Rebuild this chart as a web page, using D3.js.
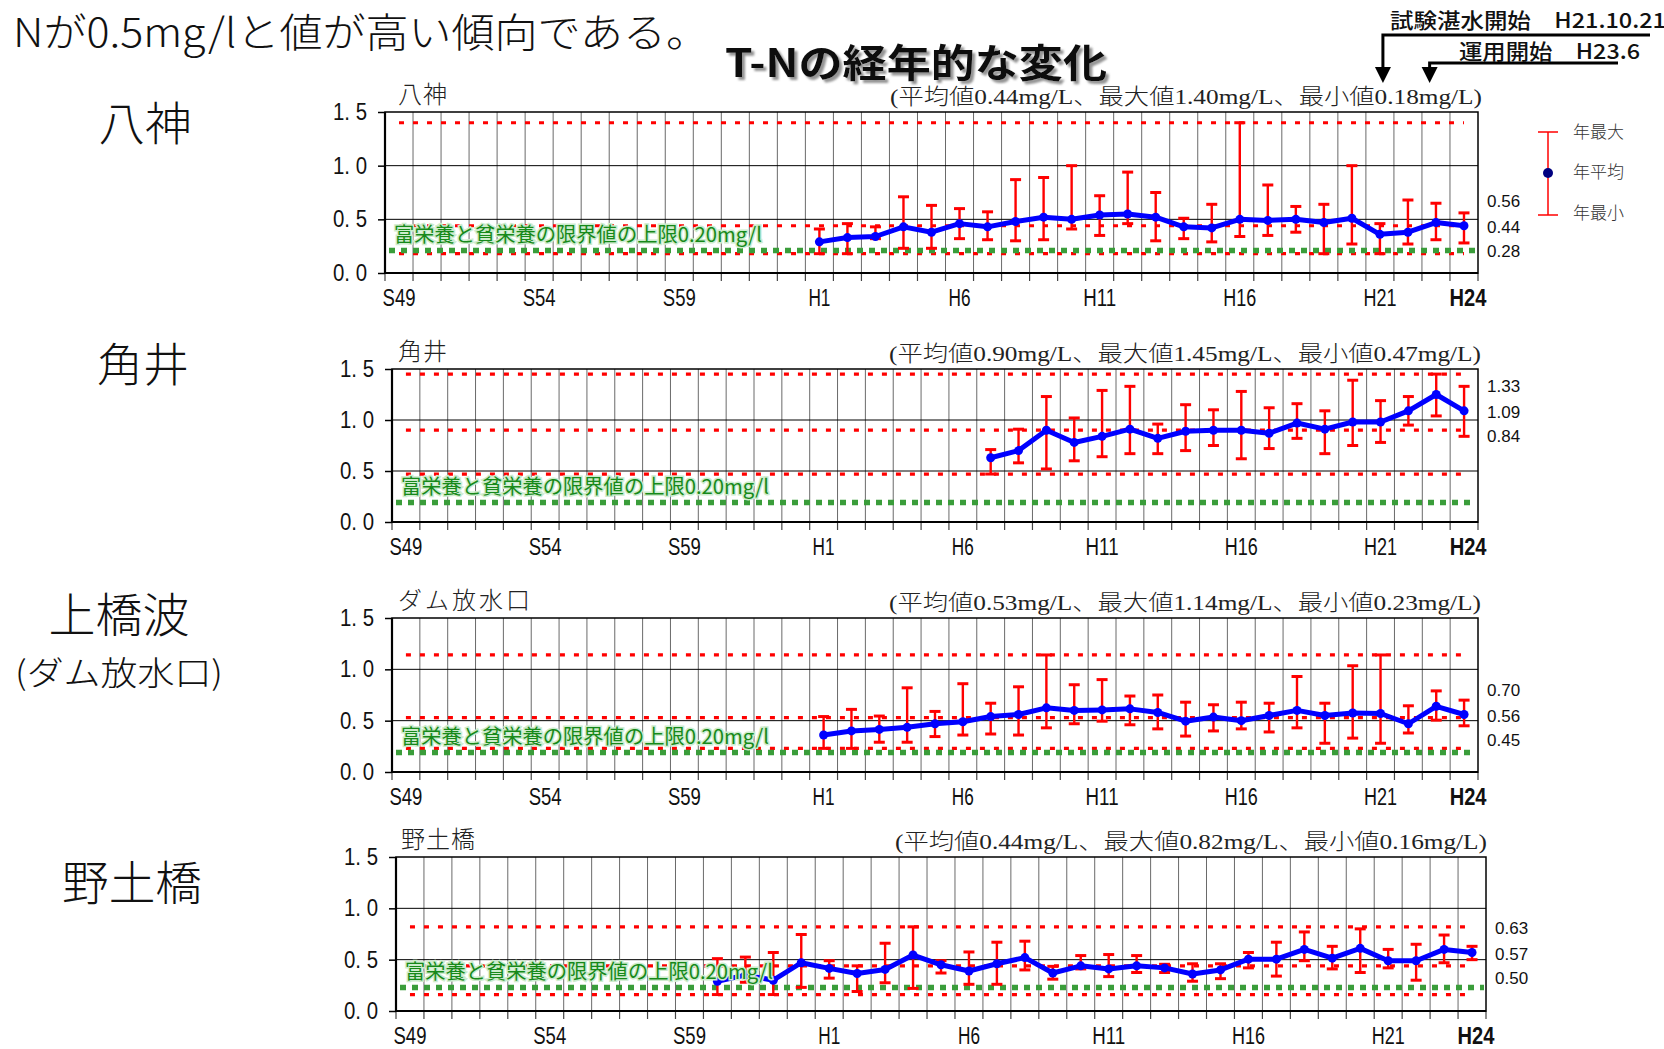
<!DOCTYPE html>
<html>
<head>
<meta charset="utf-8">
<script src="https://cdn.jsdelivr.net/npm/d3@7"></script>
<style>
body { margin: 0; background: #fff; }
svg { display: block; }
</style>
</head>
<body>
<div id="chart"></div>
<script>
const width = 1664;
const height = 1049;

// Categories (fiscal years, Showa 49 .. Heisei 24)
const years = ["S49", "S50", "S51", "S52", "S53", "S54", "S55", "S56", "S57", "S58", "S59", "S60", "S61", "S62", "S63",
    "H1", "H2", "H3", "H4", "H5", "H6", "H7", "H8", "H9", "H10", "H11", "H12", "H13", "H14", "H15", "H16",
    "H17", "H18", "H19", "H20", "H21", "H22", "H23", "H24"];
const tickYears = ["S49", "S54", "S59", "H1", "H6", "H11", "H16", "H21", "H24"];

const stationNames = ["八神", "角井", "ダム放水口", "野土橋"];
const startYears = ["H1", "H7", "H1", "S60"];

// Yearly mean / max / min T-N (mg/L), one list per station from its start year
const meanValues = [
    [0.29, 0.33, 0.34, 0.43, 0.38, 0.46, 0.43, 0.48, 0.52, 0.50, 0.54, 0.55, 0.52, 0.43, 0.42, 0.50, 0.49, 0.50, 0.47, 0.51, 0.36, 0.38, 0.47, 0.44],
    [0.63, 0.70, 0.90, 0.78, 0.84, 0.91, 0.82, 0.89, 0.90, 0.90, 0.87, 0.97, 0.91, 0.98, 0.98, 1.09, 1.25, 1.09],
    [0.36, 0.40, 0.415, 0.435, 0.47, 0.49, 0.54, 0.56, 0.625, 0.60, 0.605, 0.615, 0.58, 0.495, 0.535, 0.50, 0.55, 0.60, 0.55, 0.575, 0.57, 0.47, 0.64, 0.56],
    [0.29, 0.35, 0.30, 0.47, 0.415, 0.365, 0.405, 0.545, 0.45, 0.39, 0.46, 0.52, 0.37, 0.44, 0.41, 0.44, 0.42, 0.36, 0.40, 0.505, 0.505, 0.60, 0.515, 0.61, 0.49, 0.49, 0.60, 0.57]
];
const maxValues = [
    [0.41, 0.46, 0.43, 0.71, 0.63, 0.60, 0.57, 0.87, 0.89, 1.00, 0.72, 0.94, 0.75, 0.51, 0.64, 1.40, 0.82, 0.62, 0.64, 1.00, 0.46, 0.68, 0.65, 0.56],
    [0.71, 0.91, 1.23, 1.02, 1.29, 1.33, 0.96, 1.15, 1.10, 1.28, 1.12, 1.16, 1.09, 1.39, 1.19, 1.23, 1.45, 1.33],
    [0.54, 0.61, 0.545, 0.82, 0.59, 0.86, 0.67, 0.83, 1.14, 0.85, 0.90, 0.74, 0.75, 0.68, 0.655, 0.68, 0.67, 0.93, 0.67, 1.035, 1.14, 0.645, 0.79, 0.70],
    [0.51, 0.525, 0.57, 0.745, 0.49, 0.44, 0.66, 0.82, 0.49, 0.575, 0.67, 0.68, 0.435, 0.54, 0.55, 0.54, 0.455, 0.46, 0.46, 0.57, 0.67, 0.77, 0.63, 0.80, 0.60, 0.65, 0.74, 0.63]
];
const minValues = [
    [0.18, 0.18, 0.32, 0.23, 0.23, 0.32, 0.31, 0.30, 0.31, 0.41, 0.35, 0.46, 0.30, 0.32, 0.29, 0.34, 0.35, 0.38, 0.18, 0.27, 0.18, 0.27, 0.31, 0.28],
    [0.47, 0.58, 0.52, 0.60, 0.64, 0.67, 0.67, 0.70, 0.75, 0.62, 0.72, 0.82, 0.67, 0.75, 0.78, 0.95, 1.04, 0.84],
    [0.23, 0.23, 0.29, 0.29, 0.345, 0.36, 0.37, 0.36, 0.43, 0.47, 0.495, 0.46, 0.42, 0.35, 0.40, 0.42, 0.39, 0.43, 0.28, 0.33, 0.28, 0.38, 0.505, 0.45],
    [0.16, 0.28, 0.16, 0.23, 0.32, 0.19, 0.275, 0.22, 0.37, 0.26, 0.26, 0.40, 0.31, 0.41, 0.335, 0.375, 0.375, 0.29, 0.315, 0.42, 0.34, 0.49, 0.41, 0.375, 0.42, 0.30, 0.47, 0.50]
];

// Whole-period summary (dotted red lines)
const summaryMean = [0.44, 0.90, 0.53, 0.44];
const summaryMax = [1.40, 1.45, 1.14, 0.82];
const summaryMin = [0.18, 0.47, 0.23, 0.16];

// Eutrophic / oligotrophic boundary line (green) as drawn in each panel
const limitLevel = [0.21, 0.19, 0.19, 0.23];
const limitLabel = "富栄養と貧栄養の限界値の上限0.20mg/l";

const yTicks = [0, 0.5, 1.0, 1.5];

// Dam events: label, year category, month
const eventLabels = ["試験湛水開始　H21.10.21", "運用開始　H23.6"];
const eventYears = ["H21", "H23"];
const eventMonths = [10, 6];

// panel boxes
const panels = [
    { top: 112, bottom: 273, left: 385, right: 1478, statsStart: 890 },
    { top: 369, bottom: 522, left: 392, right: 1478, statsStart: 889 },
    { top: 618, bottom: 772, left: 392, right: 1478, statsStart: 889 },
    { top: 857, bottom: 1011, left: 396, right: 1486, statsStart: 895 }
];

const tickFont = "'Liberation Sans', Arial, sans-serif";
const jpFont = "'Noto Sans CJK JP', sans-serif";
const serifJp = "'Liberation Serif', 'Noto Sans CJK JP', serif";
const f2 = d3.format(".2f");

const svg = d3.select("#chart").append("svg")
    .attr("width", width)
    .attr("height", height)
    .style("background", "#fff");

// drop shadow for the title
const defs = svg.append("defs");
defs.append("filter")
    .attr("id", "shadow")
    .attr("x", "-5%").attr("y", "-20%").attr("width", "115%").attr("height", "150%")
    .append("feDropShadow")
    .attr("dx", 3).attr("dy", 3).attr("stdDeviation", 1)
    .attr("flood-color", "#888").attr("flood-opacity", 0.9);

// Top headline
svg.append("text")
    .attr("x", 13).attr("y", 30)
    .attr("dominant-baseline", "central")
    .attr("textLength", 696).attr("lengthAdjust", "spacingAndGlyphs")
    .style("font-family", jpFont).style("font-weight", 300).style("font-size", "40px")
    .attr("fill", "#111")
    .text("Nが0.5mg/lと値が高い傾向である。");

// Chart title
svg.append("text")
    .attr("x", 725).attr("y", 60)
    .attr("dominant-baseline", "central")
    .attr("textLength", 382).attr("lengthAdjust", "spacingAndGlyphs")
    .attr("filter", "url(#shadow)")
    .style("font-family", jpFont).style("font-weight", 700).style("font-size", "39px")
    .attr("fill", "#111")
    .text("T-Nの経年的な変化");

// Left big station names
const bigNames = [
    { text: "八神", x: 145, y: 120, size: 46, len: 93 },
    { text: "角井", x: 143, y: 361, size: 46, len: 92 },
    { text: "上橋波", x: 119, y: 611, size: 47, len: 141 },
    { text: "(ダム放水口)", x: 119, y: 671, size: 33, len: 208 },
    { text: "野土橋", x: 132, y: 879, size: 47, len: 140 }
];
svg.selectAll("text.big")
    .data(bigNames)
    .enter()
    .append("text")
    .attr("class", "big")
    .attr("x", d => d.x).attr("y", d => d.y)
    .attr("text-anchor", "middle")
    .attr("dominant-baseline", "central")
    .attr("textLength", d => d.len).attr("lengthAdjust", "spacingAndGlyphs")
    .style("font-family", jpFont).style("font-weight", 300)
    .style("font-size", d => d.size + "px")
    .attr("fill", "#111")
    .text(d => d.text);

function drawPanel(i) {
    const p = panels[i];
    const g = svg.append("g");

    const x = d3.scaleBand().domain(years).range([p.left, p.right]).padding(0);
    const bw = x.bandwidth();
    const y = d3.scaleLinear().domain([0, 1.5]).range([p.bottom, p.top]);

    // vertical grid at band boundaries
    g.selectAll("line.vgrid")
        .data(years.slice(1))
        .enter()
        .append("line")
        .attr("x1", d => x(d)).attr("x2", d => x(d))
        .attr("y1", p.top).attr("y2", p.bottom)
        .attr("stroke", "#6a6a6a").attr("stroke-width", 1);

    // boundary tick marks below axis
    g.selectAll("line.xtick")
        .data(years.concat(["end"]))
        .enter()
        .append("line")
        .attr("x1", d => d === "end" ? p.right : x(d))
        .attr("x2", d => d === "end" ? p.right : x(d))
        .attr("y1", p.bottom).attr("y2", p.bottom + 8)
        .attr("stroke", "#444").attr("stroke-width", 1.2);

    // horizontal grid
    g.selectAll("line.hgrid")
        .data([0.5, 1.0])
        .enter()
        .append("line")
        .attr("x1", p.left).attr("x2", p.right)
        .attr("y1", d => y(d)).attr("y2", d => y(d))
        .attr("stroke", "#000").attr("stroke-width", 1);

    // frame
    g.append("rect")
        .attr("x", p.left).attr("y", p.top)
        .attr("width", p.right - p.left).attr("height", p.bottom - p.top)
        .attr("fill", "none").attr("stroke", "#000").attr("stroke-width", 1.5);
    g.append("line")
        .attr("x1", p.left).attr("x2", p.left)
        .attr("y1", p.top).attr("y2", p.bottom)
        .attr("stroke", "#000").attr("stroke-width", 2.2);
    g.append("line")
        .attr("x1", p.left).attr("x2", p.right)
        .attr("y1", p.bottom).attr("y2", p.bottom)
        .attr("stroke", "#000").attr("stroke-width", 2.2);

    // y axis
    const yAxis = g.append("g")
        .attr("transform", `translate(${p.left},0)`)
        .call(d3.axisLeft(y).tickValues(yTicks).tickSize(7).tickPadding(11)
            .tickFormat(d => d3.format(".1f")(d).replace(".", ". ")));
    yAxis.select(".domain").remove();
    yAxis.selectAll("line").attr("stroke", "#000").attr("stroke-width", 1.5);
    yAxis.selectAll("text")
        .attr("textLength", 34).attr("lengthAdjust", "spacingAndGlyphs")
        .style("font-family", tickFont).style("font-size", "23px")
        .attr("fill", "#111");

    // x axis labels at band centres
    const xAxis = g.append("g")
        .attr("transform", `translate(0,${p.bottom})`)
        .call(d3.axisBottom(x).tickValues(tickYears).tickSize(0).tickPadding(16));
    xAxis.select(".domain").remove();
    xAxis.selectAll("text")
        .attr("dy", "0.76em")
        .attr("x", d => d === "H24" ? 4 : 0)
        .attr("textLength", d => d.length * (d === "H24" ? 12.3 : 11))
        .attr("lengthAdjust", "spacingAndGlyphs")
        .style("font-family", tickFont).style("font-size", "23px")
        .style("font-weight", d => d === "H24" ? 700 : 400)
        .attr("fill", "#111");

    // summary dotted red lines
    const x0 = x(years[0]) + bw / 2;
    const x1 = x(years[years.length - 1]) + bw / 2;
    g.selectAll("line.summary")
        .data([summaryMax[i], summaryMean[i], summaryMin[i]])
        .enter()
        .append("line")
        .attr("x1", x0).attr("x2", x1)
        .attr("y1", d => y(d)).attr("y2", d => y(d))
        .attr("stroke", "#ff0000").attr("stroke-width", 3.2)
        .attr("stroke-dasharray", "5,9");

    // green limit line
    g.append("line")
        .attr("x1", p.left + 4).attr("x2", p.right - 2)
        .attr("y1", y(limitLevel[i])).attr("y2", y(limitLevel[i]))
        .attr("stroke", "#3a9d3a").attr("stroke-width", 5.5)
        .attr("stroke-dasharray", "6,6");

    // data rows
    const start = years.indexOf(startYears[i]);
    const rows = meanValues[i].map((m, k) => ({
        year: years[start + k],
        mean: m,
        max: maxValues[i][k],
        min: minValues[i][k]
    }));
    const cx = d => x(d.year) + bw / 2;

    // error bars
    const bars = g.selectAll("g.bar")
        .data(rows)
        .enter()
        .append("g");
    bars.append("line")
        .attr("x1", cx).attr("x2", cx)
        .attr("y1", d => y(d.max)).attr("y2", d => y(d.min))
        .attr("stroke", "#ff0000").attr("stroke-width", 2.4);
    ["max", "min"].forEach(k => {
        bars.append("line")
            .attr("x1", d => cx(d) - 5.5).attr("x2", d => cx(d) + 5.5)
            .attr("y1", d => y(d[k])).attr("y2", d => y(d[k]))
            .attr("stroke", "#ff0000").attr("stroke-width", 3);
    });

    // mean line
    const line = d3.line().x(cx).y(d => y(d.mean));
    g.append("path")
        .datum(rows)
        .attr("d", line)
        .attr("fill", "none")
        .attr("stroke", "#0000ff").attr("stroke-width", 5)
        .attr("stroke-linejoin", "round");
    g.selectAll("circle.pt")
        .data(rows)
        .enter()
        .append("circle")
        .attr("cx", cx).attr("cy", d => y(d.mean))
        .attr("r", 4.5)
        .attr("fill", "#0000ff");

    // green label
    g.append("text")
        .attr("x", p.left + 9).attr("y", y(limitLevel[i]) - 17)
        .attr("dominant-baseline", "central")
        .attr("textLength", 368).attr("lengthAdjust", "spacingAndGlyphs")
        .style("font-family", jpFont).style("font-weight", 400).style("font-size", "20px")
        .style("paint-order", "stroke")
        .attr("stroke", "#cdeccd").attr("stroke-width", 3)
        .attr("fill", "#17891a")
        .text(limitLabel);

    // small station name and statistics
    g.append("text")
        .attr("x", 398 + (i === 3 ? 3 : 0)).attr("y", p.top - 17)
        .attr("dominant-baseline", "central")
        .style("font-family", serifJp).style("font-weight", 300).style("font-size", "24px")
        .attr("letter-spacing", i === 2 ? 3 : 1)
        .attr("fill", "#222")
        .text(stationNames[i]);
    g.append("text")
        .attr("x", p.statsStart).attr("y", p.top - 16)
        .attr("dominant-baseline", "central")
        .attr("textLength", 592).attr("lengthAdjust", "spacingAndGlyphs")
        .style("font-family", serifJp).style("font-weight", 300).style("font-size", "22px")
        .attr("fill", "#222")
        .text(`(平均値${f2(summaryMean[i])}mg/L、最大値${f2(summaryMax[i])}mg/L、最小値${f2(summaryMin[i])}mg/L)`);

    // last-year values at right
    const last = rows[rows.length - 1];
    const midY = y(last.mean) + 2;
    [[last.max, midY - 26], [last.mean, midY], [last.min, midY + 24]].forEach(([v, yy]) => {
        g.append("text")
            .attr("x", p.right + 9).attr("y", yy)
            .attr("dominant-baseline", "central")
            .style("font-family", tickFont).style("font-size", "17px")
            .attr("fill", "#111")
            .text(f2(v));
    });

    return x;
}

const xFirst = drawPanel(0);
drawPanel(1);
drawPanel(2);
drawPanel(3);

// Legend
const lg = svg.append("g");
lg.append("line").attr("x1", 1548).attr("x2", 1548).attr("y1", 132).attr("y2", 215)
    .attr("stroke", "#ff0000").attr("stroke-width", 1.5);
[132, 215].forEach(yy => {
    lg.append("line").attr("x1", 1538).attr("x2", 1558).attr("y1", yy).attr("y2", yy)
        .attr("stroke", "#ff0000").attr("stroke-width", 1.5);
});
lg.append("circle").attr("cx", 1548).attr("cy", 173).attr("r", 5).attr("fill", "#000080");
[["年最大", 132], ["年平均", 172], ["年最小", 213]].forEach(([t, yy]) => {
    lg.append("text").attr("x", 1573).attr("y", yy)
        .attr("dominant-baseline", "central")
        .style("font-family", serifJp).style("font-weight", 300).style("font-size", "17px")
        .attr("fill", "#333")
        .text(t);
});

// Dam event annotations with arrows into the top panel
const bwFirst = xFirst.bandwidth();
const eventText = [
    { x: 1390, y: 19, len: 276 },
    { x: 1459, y: 50, len: 181 }
];
const eventLineY = [35, 63];
const eventLineEnd = [1650, 1618];
eventLabels.forEach((label, k) => {
    svg.append("text")
        .attr("x", eventText[k].x).attr("y", eventText[k].y)
        .attr("dominant-baseline", "central")
        .attr("textLength", eventText[k].len).attr("lengthAdjust", "spacingAndGlyphs")
        .style("font-family", jpFont).style("font-weight", 500).style("font-size", "21px")
        .attr("fill", "#111")
        .text(label);
    const ax = xFirst(eventYears[k]) + bwFirst * (eventMonths[k] - 1) / 12 - 4;
    svg.append("path")
        .attr("d", `M${eventLineEnd[k]},${eventLineY[k]} H${ax} V${70}`)
        .attr("fill", "none").attr("stroke", "#000").attr("stroke-width", 3);
    svg.append("path")
        .attr("d", `M${ax - 8},${67} L${ax + 8},${67} L${ax},${83} Z`)
        .attr("fill", "#000");
});
</script>
</body>
</html>
